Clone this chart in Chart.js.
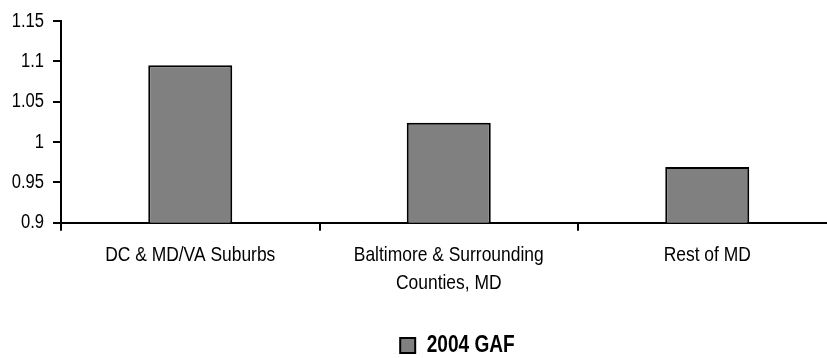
<!DOCTYPE html>
<html>
<head>
<meta charset="utf-8">
<script src="https://cdn.jsdelivr.net/npm/chart.js@4.4.1/dist/chart.umd.min.js"></script>
<style>
  html, body { margin: 0; padding: 0; background: #fff; overflow: hidden; }
  #wrap { width: 933px; height: 367px; }
</style>
</head>
<body>
<div id="wrap"><canvas id="chart" width="933" height="367"></canvas></div>
<script>
// Regions (multi-line labels) and their 2004 GAF values
const categories = [
  'DC & MD/VA Suburbs',
  ['Baltimore & Surrounding', 'Counties, MD'],
  'Rest of MD'
];
const seriesName = '2004 GAF';
const gafValues = [1.095, 1.024, 0.969];
const yTickValues = [0.9, 0.95, 1, 1.05, 1.1, 1.15];

const FONT = "'Liberation Sans Narrow', 'Arial Narrow', 'Liberation Sans', Arial, sans-serif";
const NARROW = 0.83;       // horizontal squeeze for a narrow-style typeface
const PLOT_LEFT = 61;      // y axis position
const PLOT_RIGHT = 836.5;  // right end of the category axis
const PLOT_BOTTOM = 222.7; // x axis position

// Draw every label condensed horizontally (fillText's maxWidth squeezes glyphs
// while keeping the text alignment anchor).
const condensedText = {
  id: 'condensedText',
  beforeInit(chart) {
    const ctx = chart.ctx;
    const fill = ctx.fillText.bind(ctx);
    ctx.fillText = function (text, x, y, maxWidth) {
      const w = ctx.measureText(text).width * NARROW;
      fill(text, x, y, maxWidth !== undefined ? Math.min(maxWidth, w) : w);
    };
  }
};

new Chart(document.getElementById('chart'), {
  type: 'bar',
  data: {
    labels: categories,
    datasets: [{
      label: seriesName,
      data: gafValues,
      backgroundColor: '#808080',
      borderColor: '#000',
      borderWidth: 2,
      barPercentage: 0.325,
      categoryPercentage: 1
    }]
  },
  plugins: [condensedText],
  options: {
    responsive: false,
    animation: false,
    devicePixelRatio: 1,
    layout: { padding: { top: 20.7, left: 0, right: 0, bottom: 0 } },
    plugins: {
      tooltip: { enabled: false },
      legend: {
        position: 'bottom',
        labels: {
          color: '#000',
          boxWidth: 15,
          boxHeight: 15,
          padding: 10,
          font: { family: FONT, size: 23, weight: 'bold' }
        }
      }
    },
    scales: {
      x: {
        offset: true,
        grid: {
          offset: true,
          drawOnChartArea: false,
          drawTicks: true,
          tickLength: 8,
          color: '#000',
          lineWidth: 2
        },
        border: { display: true, color: '#000', width: 2 },
        ticks: {
          color: '#000',
          padding: 11,
          maxRotation: 0,
          autoSkip: false,
          font: { family: FONT, size: 21, lineHeight: 1.33 }
        },
        afterFit(scale) {
          const chart = scale.chart;
          const legendH = chart.legend ? chart.legend.height : 0;
          scale.height = chart.height - PLOT_BOTTOM - legendH;
          scale.paddingLeft = 0;
          scale.paddingRight = chart.width - PLOT_RIGHT;
        }
      },
      y: {
        min: 0.9,
        max: 1.15,
        afterBuildTicks(scale) {
          scale.ticks = yTickValues.map(v => ({ value: v }));
        },
        grid: {
          drawOnChartArea: false,
          drawTicks: true,
          tickLength: 8,
          color: '#000',
          lineWidth: 2
        },
        border: { display: true, color: '#000', width: 2 },
        ticks: {
          color: '#000',
          padding: 9,
          font: { family: FONT, size: 20 },
          callback: v => String(v)
        },
        afterFit(scale) {
          scale.width = PLOT_LEFT;
        }
      }
    }
  }
});
</script>
</body>
</html>
